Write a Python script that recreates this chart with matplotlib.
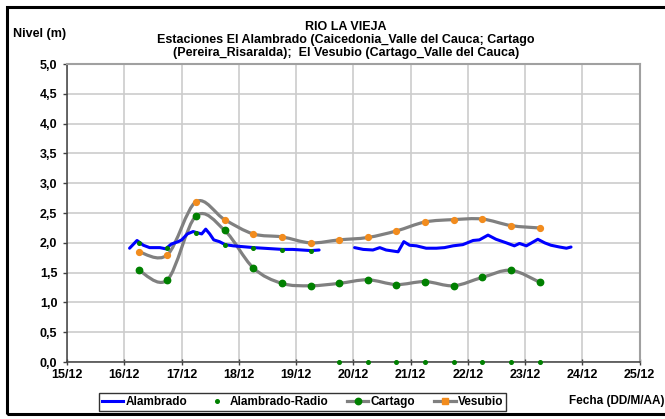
import matplotlib
matplotlib.use('Agg')
import matplotlib.pyplot as plt
from matplotlib.path import Path
from matplotlib.patches import PathPatch, Rectangle
from matplotlib.lines import Line2D
import numpy as np

plt.rcParams['font.family'] = 'Liberation Sans'
plt.rcParams['font.weight'] = 'bold'

# x values are day of December (fractional)
day_ticks = list(range(15, 26))
day_labels = ['%d/12' % d for d in day_ticks]

# Alambrado (continuous level record), two segments
alam_x1 = [16.09, 16.22, 16.33, 16.44, 16.62, 16.72, 16.82, 16.94, 17.0, 17.1, 17.2, 17.27,
           17.35, 17.42, 17.49, 17.56, 17.66, 17.76, 17.9, 18.26, 18.76, 18.94, 19.26, 19.4]
alam_y1 = [1.91, 2.04, 1.96, 1.92, 1.92, 1.90, 1.98, 2.02, 2.05, 2.15, 2.19, 2.17,
           2.15, 2.23, 2.15, 2.05, 2.02, 1.97, 1.95, 1.92, 1.89, 1.89, 1.87, 1.88]
alam_x2 = [20.02, 20.17, 20.34, 20.46, 20.57, 20.78, 20.88, 20.98, 21.1, 21.27, 21.45, 21.59,
           21.74, 21.91, 22.09, 22.2, 22.35, 22.49, 22.67, 22.81, 22.9, 23.02, 23.13, 23.22,
           23.34, 23.45, 23.6, 23.72, 23.8]
alam_y2 = [1.92, 1.89, 1.88, 1.92, 1.88, 1.85, 2.02, 1.96, 1.95, 1.91, 1.91, 1.92,
           1.95, 1.97, 2.04, 2.05, 2.13, 2.06, 2.00, 1.95, 1.99, 1.95, 2.01, 2.06,
           2.00, 1.96, 1.93, 1.91, 1.93]

# Twice-daily readings (06:00 and 18:00)
read_x = [16.25, 16.75, 17.25, 17.75, 18.25, 18.75, 19.25, 19.75, 20.25, 20.75,
          21.25, 21.75, 22.25, 22.75, 23.25]
radio_y = [2.00, 1.92, 2.17, 1.97, 1.92, 1.88, 1.87, 0, 0, 0, 0, 0, 0, 0, 0]
cartago_y = [1.54, 1.38, 2.45, 2.21, 1.58, 1.32, 1.28, 1.32, 1.38, 1.30, 1.35, 1.28,
             1.42, 1.54, 1.34]
vesubio_y = [1.85, 1.80, 2.69, 2.39, 2.15, 2.10, 2.00, 2.05, 2.09, 2.20, 2.35, 2.39,
             2.40, 2.29, 2.25]


def smooth_path(x, y):
    # Excel-style smoothed line: Catmull-Rom segments as cubic Bezier curves
    p = np.column_stack([x, y]).astype(float)
    n = len(p)
    verts = [p[0]]
    codes = [Path.MOVETO]
    for i in range(n - 1):
        p0 = p[i - 1] if i > 0 else p[i]
        p3 = p[i + 2] if i + 2 < n else p[i + 1]
        c1 = p[i] + (p[i + 1] - p0) / 6
        c2 = p[i + 1] - (p3 - p[i]) / 6
        verts += [c1, c2, p[i + 1]]
        codes += [Path.CURVE4] * 3
    return Path(verts, codes)


fig = plt.figure(figsize=(6.65, 4.19), dpi=100)
ax = fig.add_axes([0.101, 0.136, 0.861, 0.711])

orange = '#F28C1E'
green = '#008000'

ax.plot(alam_x1, alam_y1, color='#0000FF', lw=2.2, solid_capstyle='round', zorder=3)
ax.plot(alam_x2, alam_y2, color='#0000FF', lw=2.2, solid_capstyle='round', zorder=3)

for ys in (cartago_y, vesubio_y):
    ax.add_patch(PathPatch(smooth_path(read_x, ys), facecolor='none', edgecolor='#808080',
                           lw=2.3, zorder=2))
ax.plot(read_x, cartago_y, 'o', color=green, ms=4.6, zorder=4)
ax.plot(read_x, vesubio_y, 'o', color=orange, ms=4.2, zorder=4)
ax.plot(read_x, radio_y, 'o', color=green, ms=2.6, zorder=5, clip_on=False)

ax.set_xlim(15, 25)
ax.set_ylim(0, 5)
ax.set_xticks(day_ticks)
ax.set_xticklabels(day_labels, fontsize=9, fontweight='bold')
yt = np.arange(0, 5.01, 0.5)
ax.set_yticks(yt)
ax.set_yticklabels([('%.1f' % v).replace('.', ',') for v in yt], fontsize=9, fontweight='bold')
ax.grid(True, color='#CCCCCC', lw=1.2)
ax.set_axisbelow(True)
ax.tick_params(axis='y', length=3, width=1, pad=4, color='#404040')
ax.tick_params(axis='x', length=4, width=1, pad=3, direction='inout', color='#404040')
for s in ('top', 'right'):
    ax.spines[s].set_color('#A0A0A0')
    ax.spines[s].set_linewidth(1.5)
for s in ('left', 'bottom'):
    ax.spines[s].set_color('#404040')
    ax.spines[s].set_linewidth(1.1)

fig.text(0.52, 0.95, 'RIO LA VIEJA\nEstaciones El Alambrado (Caicedonia_Valle del Cauca; Cartago\n'
         '(Pereira_Risaralda);  El Vesubio (Cartago_Valle del Cauca)',
         ha='center', va='top', fontsize=9, fontweight='bold', linespacing=1.1)
fig.text(0.02, 0.92, 'Nivel (m)', ha='left', va='center', fontsize=9, fontweight='bold')
fig.text(0.999, 0.043, 'Fecha (DD/M/AA)', ha='right', va='center', fontsize=8.5, fontweight='bold')

handles = [
    Line2D([], [], color='#0000FF', lw=2.2),
    Line2D([], [], ls='none', marker='o', color=green, ms=2.6),
    Line2D([], [], color='#808080', lw=2.3, marker='o', mfc=green, mec=green, ms=4.6),
    Line2D([], [], color='#808080', lw=2.3, marker='s', mfc=orange, mec=orange, ms=3.8),
]
labels = ['Alambrado', 'Alambrado-Radio', 'Cartago', 'Vesubio']
leg = fig.legend(handles, labels, loc='center', bbox_to_anchor=(0.455, 0.041), ncol=4,
                 frameon=True, fancybox=False, edgecolor='black',
                 handlelength=1.8, handletextpad=0.2, columnspacing=1.6,
                 borderpad=0.25, prop={'weight': 'bold', 'size': 8.5})
leg.get_frame().set_linewidth(1.0)

# outer chart frame (right edge falls outside the image)
fig.patches.append(Rectangle((0.011, 0.013), 1.05, 0.971, transform=fig.transFigure,
                             fill=False, edgecolor='black', lw=2.2))

plt.savefig('out.png', dpi=100)
